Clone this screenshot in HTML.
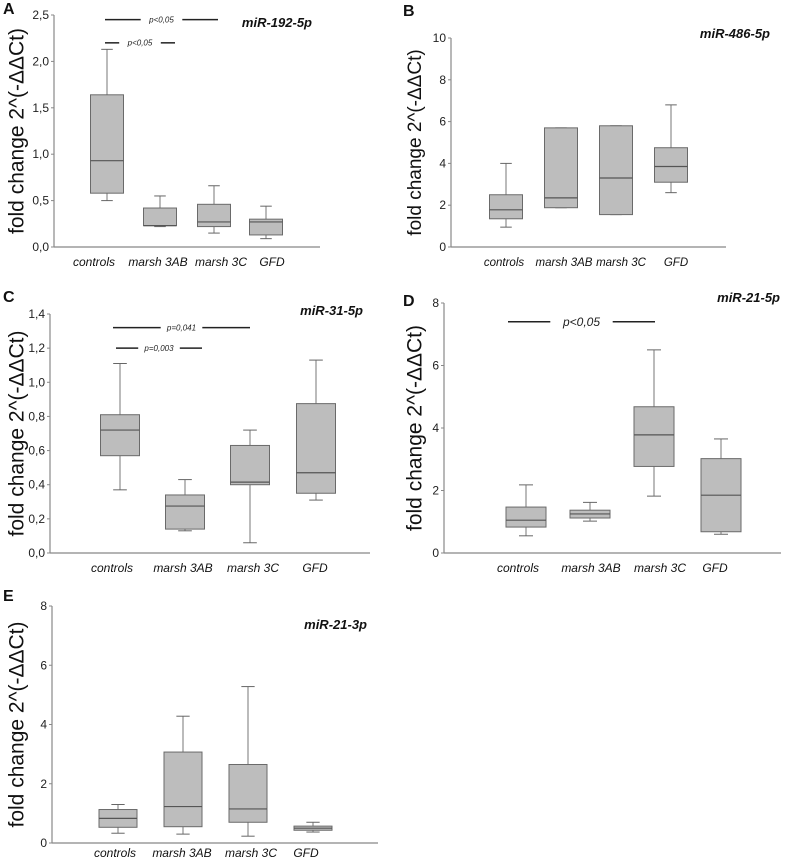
<!DOCTYPE html>
<html><head><meta charset="utf-8"><style>
html,body{margin:0;padding:0;background:#fff;}
svg{display:block;font-family:"Liberation Sans",sans-serif;}
</style></head><body>
<svg id="fig" width="786" height="858" viewBox="0 0 786 858" xmlns="http://www.w3.org/2000/svg"></svg>
<script>
const categories = ["controls","marsh 3AB","marsh 3C","GFD"];
// [min, q1, median, q3, max] per group
const seriesA = [[0.5,0.58,0.93,1.64,2.13],[0.22,0.23,0.23,0.42,0.55],[0.15,0.22,0.27,0.46,0.66],[0.09,0.13,0.27,0.30,0.44]];
const seriesB = [[0.95,1.35,1.78,2.5,4.0],[1.88,1.88,2.35,5.7,5.7],[1.55,1.55,3.3,5.8,5.8],[2.6,3.1,3.85,4.75,6.8]];
const seriesC = [[0.37,0.57,0.72,0.81,1.11],[0.13,0.14,0.275,0.34,0.43],[0.06,0.40,0.415,0.63,0.72],[0.31,0.35,0.47,0.875,1.13]];
const seriesD = [[0.55,0.83,1.05,1.47,2.18],[1.02,1.12,1.25,1.37,1.62],[1.82,2.77,3.78,4.68,6.5],[0.6,0.68,1.85,3.02,3.65]];
const seriesE = [[0.33,0.53,0.83,1.13,1.3],[0.3,0.55,1.23,3.07,4.28],[0.23,0.7,1.15,2.65,5.28],[0.37,0.43,0.5,0.57,0.7]];
const ticksA = ["0,0","0,5","1,0","1,5","2,0","2,5"];
const ticksB = ["0","2","4","6","8","10"];
const ticksC = ["0,0","0,2","0,4","0,6","0,8","1,0","1,2","1,4"];
const ticksD = ["0","2","4","6","8"];
const ticksE = ["0","2","4","6","8"];
const tickValsA = [0,0.5,1,1.5,2,2.5];
const tickValsB = [0,2,4,6,8,10];
const tickValsC = [0,0.2,0.4,0.6,0.8,1.0,1.2,1.4];
const tickValsD = [0,2,4,6,8];
const tickValsE = [0,2,4,6,8];

const NS="http://www.w3.org/2000/svg";
const svg=document.getElementById('fig');
function mk(tag,attrs,parent,text){const e=document.createElementNS(NS,tag);for(const k in attrs)e.setAttribute(k,attrs[k]);if(text!==undefined)e.textContent=text;(parent||svg).appendChild(e);return e;}

const panels=[
 {id:"a",letter:"A",lx:3,ly:14,ax:54,y0:247,y1:15,vmax:2.5,xEnd:320,centers:[107,160,214,266],bw:33,labX:[94,158,221,272],labY:266,labFs:12,ticks:ticksA,tv:tickValsA,data:seriesA,title:"miR-192-5p",tx:312,ty:27,ytx:18,ytFs:21,
  sig:[{v:2.45,x1:105,x2:218,t:"p<0,05",fs:8},{v:2.2,x1:105,x2:175,t:"p<0,05",fs:8}]},
 {id:"b",letter:"B",lx:403,ly:16,ax:451,y0:247,y1:38,vmax:10,xEnd:726,centers:[506,561,616,671],bw:33,labX:[504,564,621,676],labY:266,labFs:11.5,ticks:ticksB,tv:tickValsB,data:seriesB,title:"miR-486-5p",tx:770,ty:38,ytx:416,ytFs:19,sig:[]},
 {id:"c",letter:"C",lx:3,ly:302,ax:50,y0:553,y1:314,vmax:1.4,xEnd:370,centers:[120,185,250,316],bw:39,labX:[112,183,253,315],labY:572,labFs:12,ticks:ticksC,tv:tickValsC,data:seriesC,title:"miR-31-5p",tx:363,ty:315,ytx:18,ytFs:21,
  sig:[{v:1.32,x1:113,x2:250,t:"p=0,041",fs:8},{v:1.2,x1:116,x2:202,t:"p=0,003",fs:8}]},
 {id:"d",letter:"D",lx:403,ly:306,ax:444,y0:553,y1:303,vmax:8,xEnd:781,centers:[526,590,654,721],bw:40,labX:[518,591,660,715],labY:572,labFs:12,ticks:ticksD,tv:tickValsD,data:seriesD,title:"miR-21-5p",tx:780,ty:302,ytx:416,ytFs:21,
  sig:[{v:7.4,x1:508,x2:655,t:"p<0,05",fs:12}]},
 {id:"e",letter:"E",lx:3,ly:601,ax:52,y0:843,y1:606,vmax:8,xEnd:378,centers:[118,183,248,313],bw:38,labX:[115,182,251,306],labY:857,labFs:12,ticks:ticksE,tv:tickValsE,data:seriesE,title:"miR-21-3p",tx:367,ty:629,ytx:18,ytFs:21,sig:[]}
];
panels[0].bw=33;panels[3].bw=40;

panels.forEach(p=>{
 const g=mk('g',{});
 
 
 const y=v=>p.y0-(v/p.vmax)*(p.y0-p.y1);
 const L=mk('text',{x:p.lx,y:p.ly,'font-size':16,'font-weight':'bold',fill:'#111'},g,p.letter);
 
 
 const ya=mk('line',{x1:p.ax,y1:p.y1,x2:p.ax,y2:p.y0,stroke:'#888','stroke-width':1.2},g);
 
 
 const xa=mk('line',{x1:p.ax,y1:p.y0,x2:p.xEnd,y2:p.y0,stroke:'#888','stroke-width':1.2},g);
 
 
 p.tv.forEach((v,i)=>{
  mk('line',{x1:p.ax-3,y1:y(v),x2:p.ax,y2:y(v),stroke:'#888'},g);
  const t=mk('text',{x:p.ax-5,y:y(v)+4,'font-size':12,'text-anchor':'end',fill:'#222'},g,p.ticks[i]);
  
  
 });
 const yc=(p.y0+p.y1)/2;
 const yt=mk('text',{x:p.ytx,y:yc,'font-size':p.ytFs,'text-anchor':'middle','dominant-baseline':'middle',fill:'#111',transform:`rotate(-90 ${p.ytx} ${yc})`},g,"fold change 2^(-ΔΔCt)");
 
 
 const tt=mk('text',{x:p.tx,y:p.ty,'font-size':13,'font-weight':'bold','font-style':'italic','text-anchor':'end',fill:'#111'},g,p.title);
 
 
 categories.forEach((c,i)=>{
  const lt=mk('text',{x:p.labX[i],y:p.labY,'font-size':p.labFs,'font-style':'italic','text-anchor':'middle',fill:'#111'},g,c);
  
  
  const d=p.data[i],cx=p.centers[i],hw=p.bw/2,cap=hw*0.35;
  const bg=mk('g',{},g);
  
  
  mk('line',{x1:cx,y1:y(d[0]),x2:cx,y2:y(d[1]),stroke:'#777'},bg);
  mk('line',{x1:cx,y1:y(d[3]),x2:cx,y2:y(d[4]),stroke:'#777'},bg);
  mk('line',{x1:cx-cap,y1:y(d[0]),x2:cx+cap,y2:y(d[0]),stroke:'#666'},bg);
  mk('line',{x1:cx-cap,y1:y(d[4]),x2:cx+cap,y2:y(d[4]),stroke:'#666'},bg);
  mk('rect',{x:cx-hw,y:y(d[3]),width:p.bw,height:y(d[1])-y(d[3]),fill:'#bdbdbd',stroke:'#6a6a6a','stroke-width':1},bg);
  mk('line',{x1:cx-hw,y1:y(d[2]),x2:cx+hw,y2:y(d[2]),stroke:'#555','stroke-width':1.2},bg);
 });
 p.sig.forEach(s=>{
  const sy=y(s.v),mid=(s.x1+s.x2)/2,gap=s.fs*2.6;
  const sg=mk('g',{},g);
  
  
  mk('line',{x1:s.x1,y1:sy,x2:mid-gap,y2:sy,stroke:'#222','stroke-width':1.5},sg);
  mk('line',{x1:mid+gap,y1:sy,x2:s.x2,y2:sy,stroke:'#222','stroke-width':1.5},sg);
  mk('text',{x:mid,y:sy+s.fs*0.35,'font-size':s.fs,'font-style':'italic','text-anchor':'middle',fill:'#222'},sg,s.t);
 });
});
</script>
</body></html>
